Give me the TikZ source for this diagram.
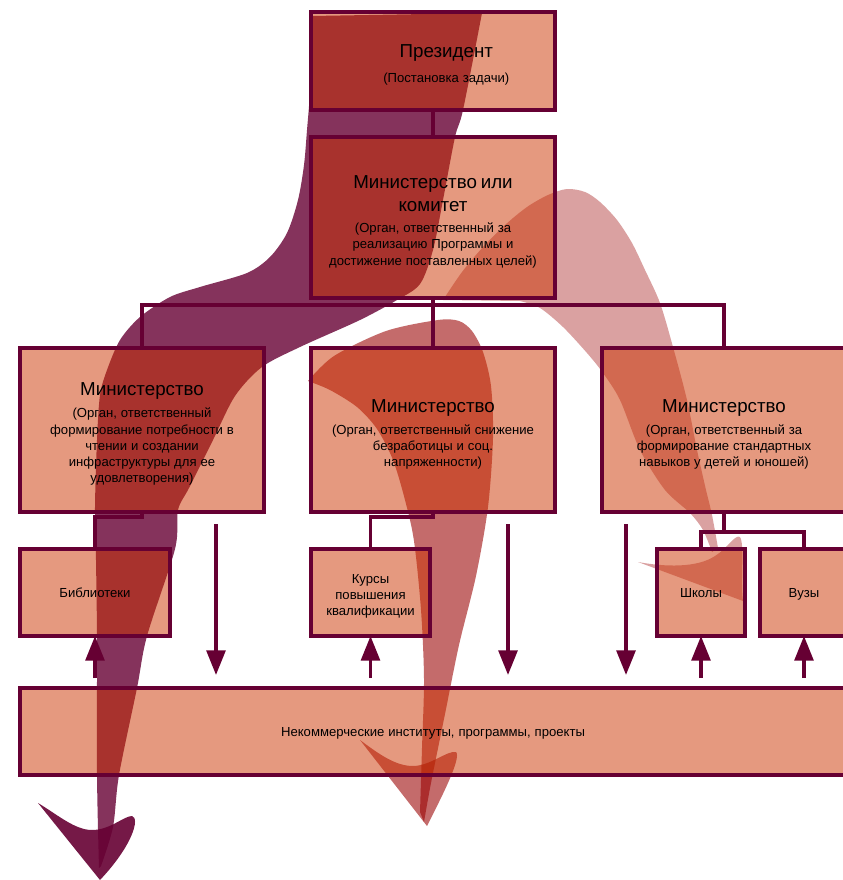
\documentclass[tikz,border=0pt]{standalone}
\usepackage{fontspec}
\setmainfont{Liberation Sans}
\usepackage{tikz}
\usetikzlibrary{arrows.meta,positioning,backgrounds}
\setlength{\parindent}{0pt}
\definecolor{ink}{HTML}{660033}
\definecolor{boxfill}{HTML}{CC3300}
\definecolor{plum}{HTML}{660033}
\definecolor{brick}{HTML}{990000}
\definecolor{rose}{RGB}{170,40,40}
\newcommand{\boxtitle}[1]{{\fontsize{16pt}{19.6pt}\selectfont #1\par}}
\newcommand{\boxnote}[1]{{\fontsize{11.2pt}{13.8pt}\selectfont #1\par}}
\tikzset{
  box/.style 2 args={rectangle, draw=ink, line width=3pt, fill=boxfill,
              fill opacity=0.5, text opacity=1, inner sep=0pt, outer sep=0pt,
              minimum width=#1, text width=#1, minimum height=#2, align=center,
              execute at end node={\par\vspace*{-7pt}}},
  conn/.style={draw=ink, line width=3pt},
  uparr/.style={-{Triangle[length=21pt,width=16pt]}, draw=ink, fill=ink, line width=3pt, shorten <=3mm},
  dnarr/.style={-{Triangle[length=21pt,width=16pt]}, draw=ink, fill=ink, line width=3pt, shorten >=3.9mm},
  plumband/.style={fill=plum, fill opacity=0.8},
  plumhead/.style={fill=plum, fill opacity=0.9},
  redband/.style={fill=brick, fill opacity=0.58},
  roseband/.style={fill=rose, fill opacity=0.44},
}

\begin{document}
\begin{tikzpicture}[x=0.3mm, y=-0.3mm]
    \useasboundingbox (0,0) rectangle (842,880);

    % top of the hierarchy
    \node[box={73.2mm}{29.4mm}] (pres) at (433,61)
          {\boxtitle{\hspace*{8mm}Президент}\vspace{8pt}\boxnote{\hspace*{8mm}(Постановка задачи)}};
    \node[box={73.2mm}{48.3mm}, below=8.1mm of pres] (comm)
          {\boxtitle{Министерство или\\комитет}\vspace{4.5pt}%
           \boxnote{(Орган, ответственный за\\реализацию Программы и\\достижение поставленных целей)}};

    % three ministries in a row
    \node[box={73.2mm}{49.2mm}, below=15mm of comm] (minM)
          {\boxtitle{Министерство}\vspace{5pt}%
           \boxnote{(Орган, ответственный снижение\\безработицы и соц.\\напряженности)}};
    \node[box={73.2mm}{49.2mm}, left=14.1mm of minM] (minL)
          {\boxtitle{Министерство}\vspace{5pt}%
           \boxnote{(Орган, ответственный\\формирование потребности в\\чтении и создании\\инфраструктуры для ее\\удовлетворения)}};
    \node[box={73.2mm}{49.2mm}, right=14.1mm of minM] (minR)
          {\boxtitle{Министерство}\vspace{5pt}%
           \boxnote{(Орган, ответственный за\\формирование стандартных\\навыков у детей и юношей)}};

    % institutions
    \node[box={45mm}{26.1mm}] (lib) at (95,592.5) {\boxnote{Библиотеки}};
    \node[box={35.7mm}{26.1mm}] (kurs) at (370.5,592.5) {\boxnote{Курсы\\повышения\\квалификации}};
    \node[box={26.4mm}{26.1mm}] (school) at (701,592.5) {\boxnote{Школы}};
    \node[box={26.4mm}{26.1mm}] (vuz) at (804,592.5) {\boxnote{Вузы}};

    % bottom band
    \node[box={247.8mm}{26.1mm}] (base) at (433,731.5)
          {\boxnote{Некоммерческие институты, программы, проекты}};

    % tree lines
    \coordinate (bus) at (433,305);
    \draw[conn] (pres.south) -- (comm.north);
    \draw[conn] (comm.south) -- (minM.north);
    \draw[conn] (minL.north) |- (bus) -| (minR.north);
    \draw[conn] (minL.south) -- ++(0,5) -| (lib.north);
    \draw[conn] (minM.south) -- ++(0,5) -| (kurs.north);
    \draw[conn] (minR.south) -- ++(0,20) coordinate (sj);
    \draw[conn] (school.north) |- (sj) -| (vuz.north);

    % arrows between the levels
    \foreach \n in {lib,kurs,school,vuz}
      \draw[uparr] (\n.south |- base.north) -- (\n.south);
    \foreach \x [count=\i] in {216,508,626} {
      \coordinate (dn\i) at (\x,524);
      \draw[dnarr] (dn\i) -- (dn\i |- base.north);
    }

    % big curved arrows, under the boxes
    \begin{scope}[on background layer]
      \fill[plumband] plot[smooth] coordinates {(312,16) (310,90) (307,130) (304,165)
            (298,200) (287,233) (270,257) (247,273) (200,287) (170,297) (140,317)
            (120,340) (107,370) (100,395) (97,440) (95,507) (96,560) (97,640)
            (97,775) (99,868)}
        -- plot[smooth] coordinates {(101,866) (113,827) (119,775) (137,688)
            (147,636) (175,549) (178,510) (189,488) (213,440) (235,396) (262,367)
            (300,347) (360,320) (397,300) (420,284) (433,250) (443,200) (455,137)
            (463,110) (482,13)} -- cycle;
      \fill[plumhead] (38,803) .. controls (58,815) and (75,830) .. (92,830)
            .. controls (110,830) and (124,816) .. (132,816)
            .. controls (140,818) and (133,845) .. (100,880) -- cycle;

      \fill[redband] plot[smooth] coordinates {(308,381) (334,356) (386,331) (438,320)
            (459,321) (472,331) (483,352) (491,386) (493,438) (488,507) (476,576)
            (459,645) (445,714) (431,783) (424,822)}
        -- plot[smooth] coordinates {(420,812) (422,748) (424,679) (421,610) (414,541)
            (405,500) (393,460) (377,429) (357,407) (330,390) (308,381)} -- cycle;
      \fill[redband] (360,740) .. controls (380,755) and (396,766) .. (413,766)
            .. controls (430,766) and (448,750) .. (456,752)
            .. controls (462,758) and (440,800) .. (427,826) -- cycle;

      \fill[roseband] plot[smooth] coordinates {(443,300) (462,272) (483,247) (505,225)
            (527,207) (548,195) (567,189) (585,192) (600,202) (617,220) (632,243)
            (645,270) (660,303) (673,347) (687,400) (697,450) (706,490) (712,515)
            (718,548)}
        -- plot[smooth] coordinates {(712,552) (703,530) (690,513) (665,490) (640,450)
            (620,400) (603,373) (587,353) (563,327) (540,308) (520,301)} -- cycle;
      \fill[roseband] (638,562) .. controls (665,567) and (697,568) .. (715,556)
            .. controls (728,548) and (735,534) .. (740,537)
            .. controls (745,545) and (740,580) .. (743,601) -- cycle;
    \end{scope}
  \end{tikzpicture}
\end{document}
